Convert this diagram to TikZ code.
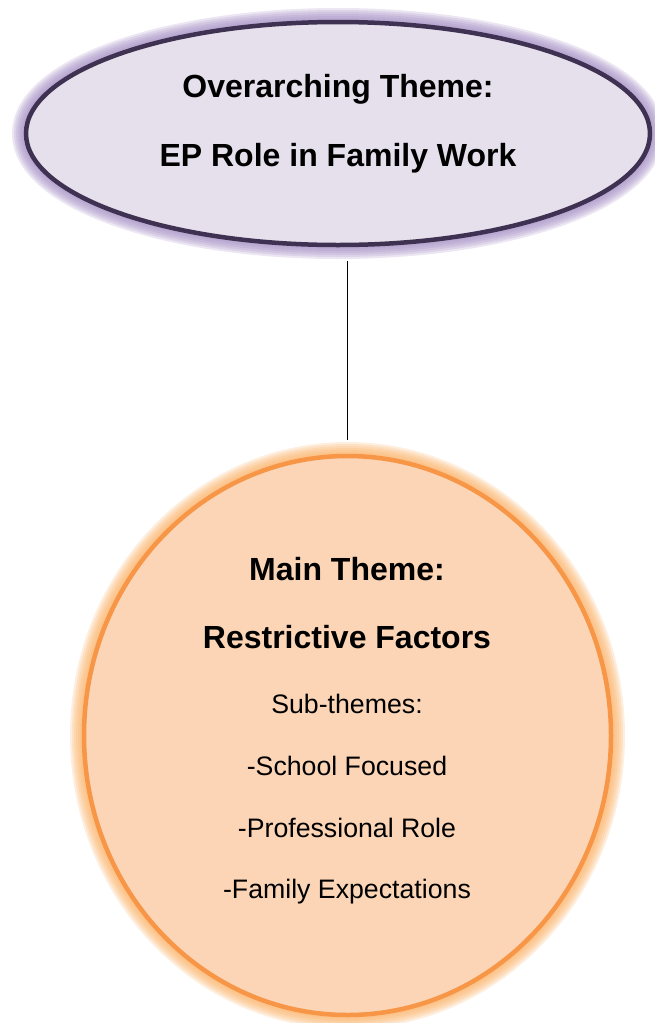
\documentclass[tikz,border=0pt]{standalone}
\usepackage{fontspec}
\setmainfont{Liberation Sans}
\usetikzlibrary{shapes.geometric}
\definecolor{lilacfill}{HTML}{E5E0EC}
\definecolor{lilacline}{HTML}{3F3151}
\definecolor{lilacglow}{HTML}{A58FC4}
\definecolor{peachfill}{HTML}{FBD5B5}
\definecolor{peachline}{HTML}{F79646}
\definecolor{peachglow}{HTML}{FBB36A}
\tikzset{
  theme/.style={ellipse, inner sep=0pt, line width=4.5pt},
  headtext/.style={font=\fontsize{32}{38}\selectfont\bfseries, anchor=base, inner sep=0pt},
  subtext/.style={font=\fontsize{26.7}{32}\selectfont, anchor=base, inner sep=0pt},
  link/.style={line width=1.3pt, black},
}
\begin{document}
\begin{tikzpicture}[x=1pt, y=-1pt]
\useasboundingbox (0,0) rectangle (654,1023);
% soft glow halos behind the two shapes
\foreach \w in {28,24,20,16,12,8} {
  \draw[lilacglow, line width=\w pt, opacity=0.22] (338,133.5) ellipse [x radius=312, y radius=111.5];
  \draw[peachglow, line width=\w pt, opacity=0.22] (347.5,735.5) ellipse [x radius=263.5, y radius=279.5];
}
\node[theme, draw=lilacline, fill=lilacfill, minimum width=624pt, minimum height=223pt] (over) at (338,133.5) {};
\node[theme, draw=peachline, fill=peachfill, minimum width=527pt, minimum height=559pt] (main) at (347.5,735.5) {};
% connector between overarching and main theme
\draw[link, shorten <=14pt, shorten >=14pt] (over.south -| main.north) -- (main.north);
% labels
\node[headtext] (t1) at (338,97) {Overarching Theme:};
\node[headtext] (t2) at (338,166) {EP Role in Family Work};
\node[headtext] (m1) at (347,580) {Main Theme:};
\node[headtext] (m2) at (347,648) {Restrictive Factors};
\node[subtext] (s0) at (347,713) {Sub-themes:};
\node[subtext] (s1) at (347,775) {-School Focused};
\node[subtext] (s2) at (347,837) {-Professional Role};
\node[subtext] (s3) at (347,898) {-Family Expectations};
\end{tikzpicture}
\end{document}
